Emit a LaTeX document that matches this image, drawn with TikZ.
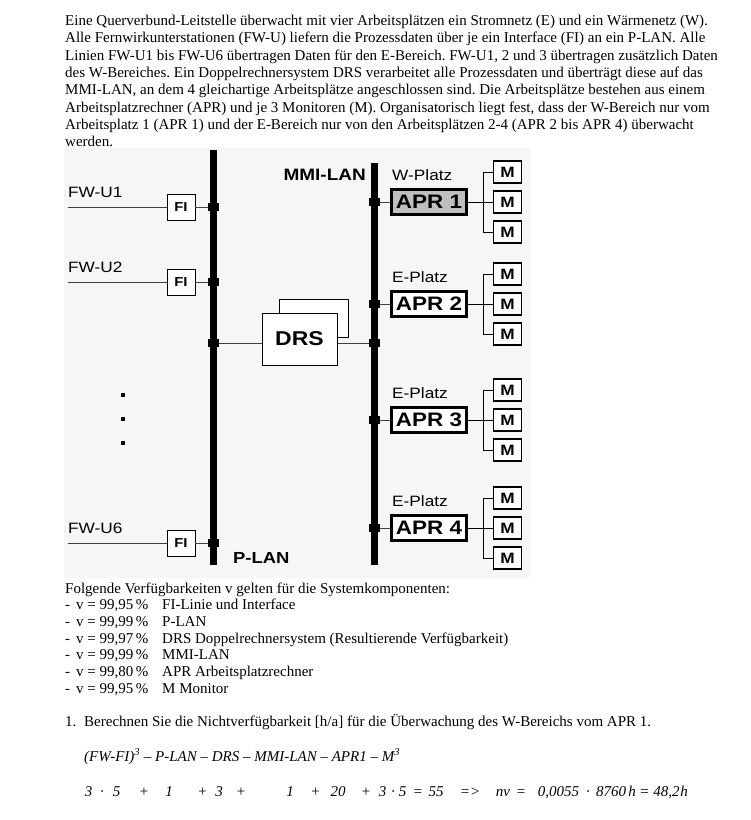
\documentclass[tikz,border=0pt]{standalone}
\usepackage{fontspec}
\setmainfont{Liberation Serif}
\newfontfamily\diafont[FakeStretch=1.15]{Liberation Sans}
\usetikzlibrary{positioning}
\frenchspacing

\begin{document}
\begin{tikzpicture}[
    x=1pt, y=-1pt,
    txt/.style={anchor=base west, inner sep=0pt, font=\fontsize{15}{17.3}\selectfont},
    bus/.style={line width=7pt},
    wire/.style={draw=black!75, line width=0.9pt},
    lbl/.style={anchor=base west, inner sep=0pt, font=\diafont\fontsize{15}{15}\selectfont},
    fibox/.style={rectangle, draw, fill=white, line width=0.9pt, minimum width=28pt, minimum height=26pt, inner sep=0pt, font=\diafont\bfseries\fontsize{13}{13}\selectfont},
    drsbox/.style={rectangle, draw, fill=white, line width=1pt, inner sep=0pt, font=\diafont\bfseries\fontsize{20}{20}\selectfont},
    aprbox/.style={rectangle, draw, line width=3pt, minimum width=75pt, minimum height=25pt, inner sep=0pt, font=\diafont\bfseries\fontsize{19.5}{19.5}\selectfont},
    monbox/.style={rectangle, draw, fill=white, line width=1.1pt, minimum width=28pt, minimum height=22pt, inner sep=0pt, font=\diafont\bfseries\fontsize{15}{15}\selectfont},
    junction/.style={rectangle, fill=black, minimum width=11pt, minimum height=8pt, inner sep=0pt}
]
    \useasboundingbox (0,0) rectangle (751,820);

    % task text
    \node[txt, anchor=north west, align=left] (intro) at (65,15) {Eine Querverbund-Leitstelle überwacht mit vier Arbeitsplätzen ein Stromnetz (E) und ein Wärmenetz (W).\\
Alle Fernwirkunterstationen (FW-U) liefern die Prozessdaten über je ein Interface (FI) an ein P-LAN. Alle\\
Linien FW-U1 bis FW-U6 übertragen Daten für den E-Bereich. FW-U1, 2 und 3 übertragen zusätzlich Daten\\
des W-Bereiches. Ein Doppelrechnersystem DRS verarbeitet alle Prozessdaten und überträgt diese auf das\\
MMI-LAN, an dem 4 gleichartige Arbeitsplätze angeschlossen sind. Die Arbeitsplätze bestehen aus einem\\
Arbeitsplatzrechner (APR) und je 3 Monitoren (M). Organisatorisch liegt fest, dass der W-Bereich nur vom\\
Arbeitsplatz 1 (APR 1) und der E-Bereich nur von den Arbeitsplätzen 2-4 (APR 2 bis APR 4) überwacht\\
werden.};

    % diagram
    \fill[gray!7] (64,148) rectangle (530,578);

    \coordinate (plantop) at (213,150);
    \coordinate (planbot) at (213,565);
    \coordinate (mmitop) at (374,163);
    \coordinate (mmibot) at (374,565);
    \draw[bus] (plantop) -- (planbot);
    \draw[bus] (mmitop) -- (mmibot);
    \node[lbl, font=\diafont\bfseries\fontsize{16}{16}\selectfont] (planlabel) at (233,563) {P-LAN};
    \node[lbl, anchor=base east, font=\diafont\bfseries\fontsize{16.5}{16.5}\selectfont] (mmilabel) at (366,180) {MMI-LAN};

    \foreach \i/\y in {1/207, 2/282, 6/543} {
        \coordinate (fwend\i) at (68,\y);
        \node[fibox] (fi\i) at (181,\y) {FI};
        \node[lbl] (fw\i) at (68,\y-10) {FW-U\i};
        \draw[wire] (fwend\i) -- (fi\i);
        \draw[wire] (fi\i) -- (fi\i -| plantop);
        \node[junction] (jp\i) at (fi\i -| plantop) {};
    }
    \foreach \y in {395,419,443}
        \fill (121,\y-2) rectangle +(4,4);

    \node[drsbox, minimum width=69pt, minimum height=38pt] (drsback) at (313.5,318) {};
    \node[drsbox, minimum width=75pt, minimum height=52pt] (drs) at (299.5,339) {DRS};
    \draw[wire] ([yshift=-4pt]drs.west) -- ([yshift=-4pt]drs.west -| plantop);
    \draw[wire] ([yshift=-4pt]drs.east) -- ([yshift=-4pt]drs.east -| mmitop);
    \node[junction] (jpd) at ([yshift=-4pt]drs.west -| plantop) {};
    \node[junction] (jmd) at ([yshift=-4pt]drs.east -| mmitop) {};

    \foreach \i/\y/\p/\c in {1/202/W/gray!50, 2/304/E/white, 3/420/E/white, 4/528/E/white} {
        \node[aprbox, fill=\c] (apr\i) at (429,\y) {APR \i};
        \node[lbl] (platz\i) at (392,\y-22) {\p-Platz};
        \draw[wire] (apr\i) -- (apr\i -| mmitop);
        \node[junction] (jm\i) at (apr\i -| mmitop) {};
        \foreach \j/\d in {a/-30, b/0, c/30}
            \node[monbox] (m\i\j) at (507.5,\y+\d) {M};
        \coordinate (fork\i) at (483,\y);
        \draw[line width=0.9pt] (apr\i) -- (m\i b);
        \draw[line width=0.9pt] (m\i a.west) -| (fork\i |- m\i c.west) -- (m\i c.west);
    }

    % availabilities
    \node[txt] (avail) at (65,593) {Folgende Verfügbarkeiten v gelten für die Systemkomponenten:};
    \foreach \y/\v/\t [count=\k] in {609/{99,95}/{FI-Linie und Interface}, 626/{99,99}/{P-LAN},
        643/{99,97}/{DRS Doppelrechnersystem (Resultierende Verfügbarkeit)}, 659/{99,99}/{MMI-LAN},
        676/{99,80}/{APR Arbeitsplatzrechner}, 693/{99,95}/{M Monitor}} {
        \node[txt] (dash\k) at (65,\y) {-};
        \node[txt] (val\k) at (76,\y) {v = \v\,\%};
        \node[txt] (comp\k) at (162,\y) {\t};
    }

    % question 1
    \node[txt] (qnum) at (65,726) {1.};
    \node[txt] (qtext) at (84,726) {Berechnen Sie die Nichtverfügbarkeit [h/a] für die Überwachung des W-Bereichs vom APR 1.};
    \node[txt, font=\itshape\fontsize{15}{17}\selectfont] (chain) at (84,761) {(FW-FI)\textsuperscript{3} – P-LAN – DRS – MMI-LAN – APR1 – M\textsuperscript{3}};
    \foreach \x/\t [count=\k] in {88.5/3, 102/·, 116.5/5, 144/+, 169/1, 202.5/+, 219/3, 241/+, 290/1,
        315.5/+, 338/20, 366/+, 382.5/3, 393/·, 402.5/5, 418/=, 436/55, 470/{=>}, 503/nv, 521/=,
        558.5/{0,0055}, 588/·, 611/8760, 632/h, 644.5/=, 666.5/{48,2}, 684/h}
        \node[txt, anchor=base, font=\itshape\fontsize{15}{17}\selectfont] (calc\k) at (\x,796) {\t};
\end{tikzpicture}
\end{document}
